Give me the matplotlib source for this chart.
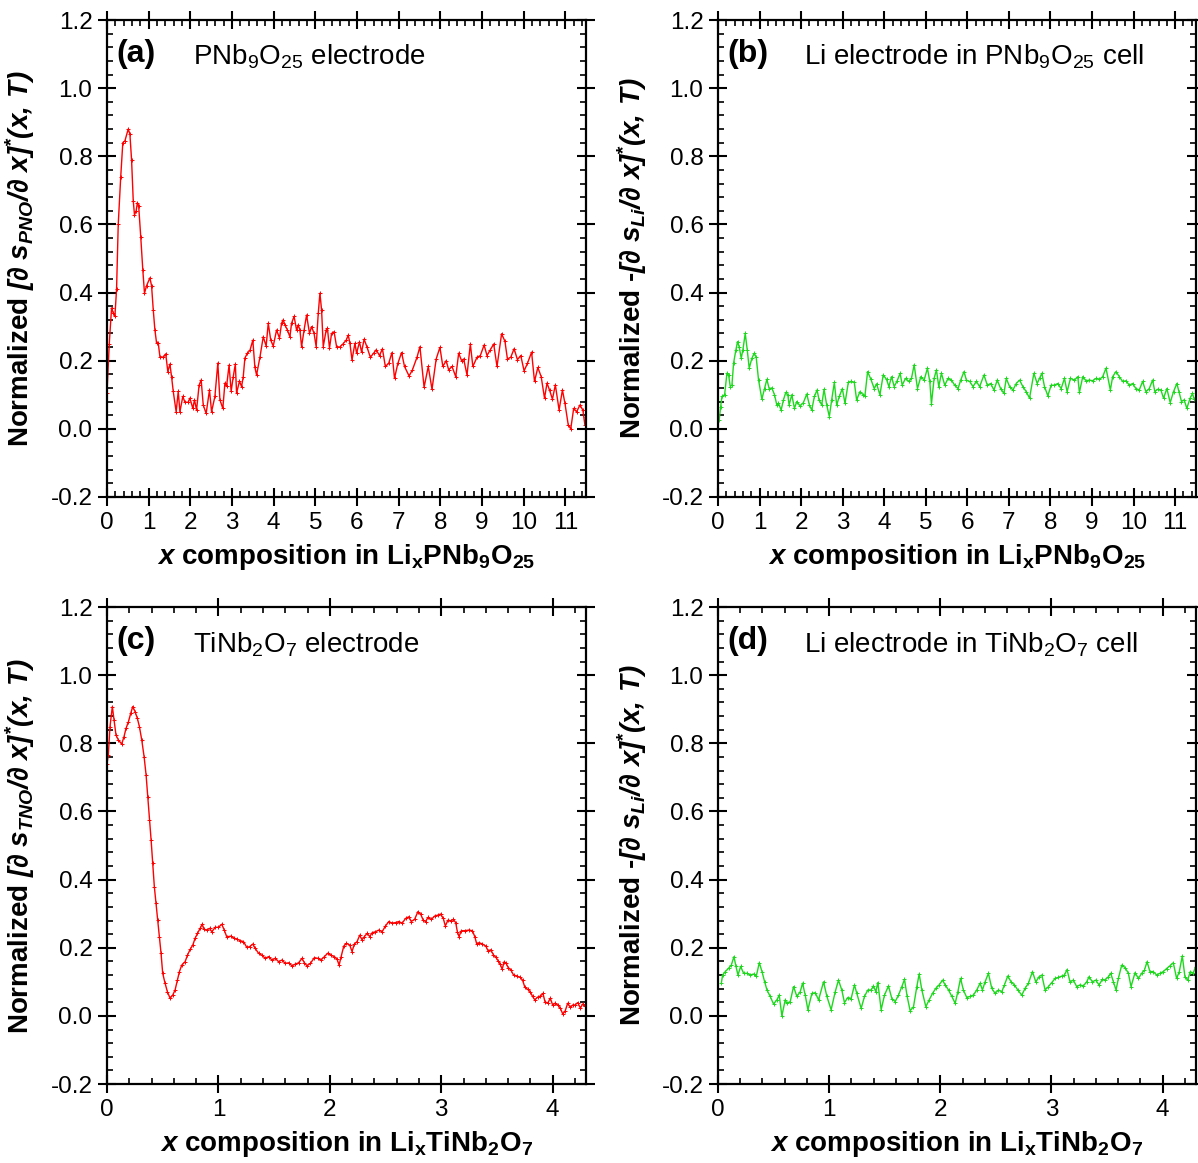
# entropy derivative panels, PNb9O25 and TiNb2O7 cells
import numpy as np
import matplotlib
matplotlib.use('Agg')
import matplotlib.pyplot as plt
from matplotlib.ticker import MultipleLocator, AutoMinorLocator

plt.rcParams['font.family'] = ['Liberation Sans', 'DejaVu Sans']
plt.rcParams['axes.unicode_minus'] = False
plt.rcParams['mathtext.fontset'] = 'custom'
plt.rcParams['mathtext.rm'] = 'Liberation Sans'
plt.rcParams['mathtext.it'] = 'Liberation Sans:italic'
plt.rcParams['mathtext.bf'] = 'Liberation Sans:bold'
plt.rcParams['mathtext.bfit'] = 'Liberation Sans:italic:bold'

# (a) PNb9O25 electrode
pno_x = [0.0, 0.055, 0.11, 0.15, 0.19, 0.23, 0.27, 0.33, 0.38, 0.43, 0.51, 0.55, 0.59, 0.63,
         0.66, 0.70, 0.73, 0.76, 0.81, 0.86, 0.90, 0.95, 1.03, 1.07, 1.11, 1.15, 1.19, 1.23,
         1.27, 1.35, 1.41, 1.46, 1.51, 1.55, 1.59, 1.66, 1.71, 1.75, 1.82, 1.87, 1.95, 1.99,
         2.06, 2.10, 2.15, 2.21, 2.26, 2.31, 2.38, 2.46, 2.51, 2.59, 2.66, 2.71, 2.78, 2.83,
         2.87, 2.93, 2.98, 3.03, 3.08, 3.11, 3.18, 3.23, 3.27, 3.31, 3.37, 3.43, 3.50, 3.55,
         3.59, 3.67, 3.75, 3.82, 3.87, 3.93, 3.99, 4.07, 4.14, 4.19, 4.23, 4.27, 4.33, 4.39,
         4.43, 4.49, 4.55, 4.59, 4.63, 4.67, 4.73, 4.79, 4.86, 4.91, 4.97, 5.02, 5.07, 5.11,
         5.15, 5.19, 5.26, 5.29, 5.34, 5.39, 5.45, 5.51, 5.59, 5.67, 5.74, 5.79, 5.83, 5.88,
         5.95, 5.99, 6.06, 6.11, 6.17, 6.24, 6.32, 6.40, 6.46, 6.54, 6.61, 6.68, 6.76, 6.84,
         6.90, 6.98, 7.07, 7.14, 7.25, 7.33, 7.44, 7.51, 7.61, 7.71, 7.80, 7.90, 7.99, 8.06,
         8.14, 8.20, 8.28, 8.37, 8.44, 8.51, 8.56, 8.64, 8.72, 8.78, 8.88, 8.96, 9.05, 9.12,
         9.20, 9.28, 9.36, 9.47, 9.55, 9.61, 9.69, 9.77, 9.85, 9.93, 10.01, 10.09, 10.19,
         10.26, 10.34, 10.42, 10.50, 10.56, 10.62, 10.69, 10.76, 10.85, 10.93, 10.99, 11.07,
         11.13, 11.20, 11.27, 11.35, 11.42, 11.47, 11.50]
pno_y = [0.105, 0.25, 0.355, 0.34, 0.33, 0.41, 0.60, 0.74, 0.84, 0.845, 0.88, 0.865, 0.79, 0.67,
         0.628, 0.64, 0.664, 0.655, 0.564, 0.466, 0.398, 0.42, 0.443, 0.42, 0.35, 0.29, 0.252, 0.252,
         0.212, 0.21, 0.22, 0.168, 0.19, 0.153, 0.11, 0.05, 0.11, 0.05, 0.095, 0.078, 0.078, 0.09,
         0.06, 0.085, 0.055, 0.128, 0.143, 0.07, 0.045, 0.114, 0.05, 0.095, 0.193, 0.085, 0.06, 0.134,
         0.125, 0.187, 0.11, 0.153, 0.19, 0.105, 0.14, 0.124, 0.153, 0.208, 0.222, 0.23, 0.26, 0.18,
         0.158, 0.21, 0.27, 0.243, 0.31, 0.26, 0.243, 0.29, 0.266, 0.31, 0.32, 0.305, 0.29, 0.27,
         0.31, 0.33, 0.29, 0.305, 0.29, 0.241, 0.29, 0.334, 0.28, 0.30, 0.28, 0.241, 0.339, 0.398,
         0.349, 0.241, 0.29, 0.295, 0.237, 0.28, 0.285, 0.241, 0.24, 0.25, 0.26, 0.275, 0.251, 0.202,
         0.251, 0.222, 0.255, 0.225, 0.263, 0.24, 0.21, 0.222, 0.232, 0.215, 0.235, 0.183, 0.192, 0.224,
         0.148, 0.192, 0.224, 0.183, 0.155, 0.173, 0.21, 0.241, 0.122, 0.183, 0.116, 0.205, 0.239, 0.183,
         0.20, 0.173, 0.183, 0.153, 0.222, 0.20, 0.205, 0.158, 0.249, 0.183, 0.21, 0.215, 0.246, 0.215,
         0.232, 0.249, 0.183, 0.279, 0.257, 0.205, 0.21, 0.235, 0.203, 0.215, 0.17, 0.192, 0.225,
         0.139, 0.18, 0.153, 0.09, 0.134, 0.114, 0.087, 0.129, 0.055, 0.114, 0.075, 0.011,
         0.0, 0.06, 0.05, 0.07, 0.055, 0.011, 0.035]

# (b) Li electrode in PNb9O25 cell
lip_x = [0.03, 0.065, 0.096, 0.16, 0.216, 0.256, 0.296, 0.336, 0.376, 0.432, 0.472, 0.512, 0.56,
         0.60, 0.656, 0.704, 0.752, 0.816, 0.872, 0.92, 0.976, 1.056, 1.12, 1.176, 1.232, 1.296,
         1.36, 1.416, 1.456, 1.52, 1.576, 1.632, 1.68, 1.712, 1.776, 1.84, 1.896, 1.976, 2.056,
         2.136, 2.20, 2.256, 2.32, 2.384, 2.432, 2.496, 2.552, 2.616, 2.68, 2.736, 2.80, 2.856,
         2.92, 2.992, 3.056, 3.136, 3.20, 3.28, 3.336, 3.416, 3.496, 3.536, 3.60, 3.68, 3.76,
         3.816, 3.896, 3.976, 4.056, 4.112, 4.176, 4.24, 4.304, 4.384, 4.432, 4.512, 4.592, 4.656,
         4.72, 4.80, 4.88, 4.96, 5.04, 5.096, 5.136, 5.20, 5.256, 5.312, 5.376, 5.456, 5.536,
         5.616, 5.696, 5.776, 5.84, 5.92, 5.976, 6.056, 6.136, 6.216, 6.296, 6.40, 6.48, 6.56,
         6.64, 6.72, 6.80, 6.88, 6.936, 7.016, 7.096, 7.176, 7.256, 7.336, 7.416, 7.496, 7.60,
         7.68, 7.736, 7.792, 7.856, 7.936, 8.016, 8.096, 8.176, 8.256, 8.336, 8.40, 8.48, 8.576,
         8.656, 8.696, 8.776, 8.856, 8.936, 9.016, 9.096, 9.176, 9.256, 9.336, 9.44, 9.496, 9.576,
         9.656, 9.736, 9.816, 9.896, 9.976, 10.056, 10.136, 10.216, 10.296, 10.376, 10.456,
         10.512, 10.576, 10.656, 10.72, 10.80, 10.88, 10.96, 11.04, 11.096, 11.152, 11.216,
         11.28, 11.36, 11.416, 11.456]
lip_y = [0.026, 0.065, 0.095, 0.10, 0.163, 0.158, 0.124, 0.128, 0.193, 0.232, 0.256, 0.24, 0.207,
         0.232, 0.28, 0.232, 0.178, 0.207, 0.222, 0.21, 0.144, 0.087, 0.118, 0.145, 0.118, 0.12,
         0.10, 0.07, 0.075, 0.055, 0.085, 0.107, 0.10, 0.07, 0.10, 0.06, 0.08, 0.067, 0.077,
         0.102, 0.07, 0.055, 0.095, 0.114, 0.085, 0.07, 0.116, 0.07, 0.036, 0.085, 0.136, 0.07,
         0.095, 0.118, 0.075, 0.136, 0.139, 0.136, 0.085, 0.109, 0.10, 0.097, 0.168, 0.145, 0.118,
         0.132, 0.10, 0.158, 0.145, 0.124, 0.153, 0.124, 0.139, 0.163, 0.128, 0.148, 0.139, 0.148,
         0.188, 0.118, 0.153, 0.143, 0.178, 0.139, 0.073, 0.148, 0.173, 0.124, 0.163, 0.128, 0.148,
         0.143, 0.128, 0.118, 0.143, 0.168, 0.143, 0.139, 0.124, 0.139, 0.124, 0.158, 0.128, 0.133,
         0.114, 0.143, 0.118, 0.104, 0.148, 0.124, 0.114, 0.133, 0.143, 0.124, 0.109, 0.09, 0.163,
         0.133, 0.148, 0.163, 0.124, 0.097, 0.128, 0.128, 0.133, 0.118, 0.148, 0.109, 0.148, 0.143,
         0.153, 0.107, 0.153, 0.141, 0.143, 0.141, 0.148, 0.145, 0.153, 0.178, 0.114, 0.153, 0.168,
         0.153, 0.139, 0.141, 0.128, 0.133, 0.118, 0.114, 0.139, 0.109, 0.118, 0.143,
         0.109, 0.116, 0.114, 0.09, 0.118, 0.077, 0.109, 0.133, 0.107, 0.08, 0.085,
         0.06, 0.09, 0.104, 0.087]

# (c) TiNb2O7 electrode
tno_x = [0.0, 0.012, 0.027, 0.048, 0.063, 0.081, 0.102, 0.132, 0.153, 0.171, 0.192, 0.213, 0.231,
         0.252, 0.273, 0.291, 0.312, 0.333, 0.351, 0.366, 0.381, 0.396, 0.41, 0.425, 0.44, 0.455,
         0.47, 0.485, 0.50, 0.521, 0.542, 0.566, 0.59, 0.611, 0.632, 0.65, 0.671, 0.701, 0.722,
         0.746, 0.77, 0.791, 0.812, 0.836, 0.854, 0.872, 0.896, 0.92, 0.941, 0.971, 1.00, 1.03,
         1.052, 1.075, 1.111, 1.141, 1.171, 1.195, 1.225, 1.255, 1.279, 1.309, 1.33, 1.36, 1.39,
         1.42, 1.45, 1.48, 1.51, 1.54, 1.57, 1.60, 1.63, 1.66, 1.69, 1.72, 1.75, 1.771, 1.795,
         1.825, 1.861, 1.891, 1.921, 1.951, 1.981, 2.011, 2.041, 2.065, 2.083, 2.101, 2.125,
         2.149, 2.178, 2.199, 2.22, 2.244, 2.268, 2.289, 2.31, 2.334, 2.358, 2.379, 2.409, 2.439,
         2.469, 2.499, 2.529, 2.559, 2.589, 2.619, 2.649, 2.679, 2.709, 2.73, 2.76, 2.79, 2.814,
         2.838, 2.859, 2.88, 2.91, 2.94, 2.97, 2.994, 3.018, 3.036, 3.06, 3.084, 3.108, 3.129,
         3.144, 3.159, 3.18, 3.21, 3.249, 3.279, 3.30, 3.318, 3.339, 3.369, 3.399, 3.42, 3.444,
         3.468, 3.489, 3.51, 3.528, 3.546, 3.564, 3.582, 3.60, 3.624, 3.648, 3.678, 3.708, 3.729,
         3.75, 3.774, 3.798, 3.819, 3.84, 3.864, 3.888, 3.912, 3.93, 3.954, 3.978, 3.999, 4.02,
         4.044, 4.068, 4.089, 4.11, 4.134, 4.158, 4.179, 4.20, 4.224, 4.248, 4.269, 4.29]
tno_y = [0.74, 0.766, 0.849, 0.908, 0.869, 0.824, 0.81, 0.798, 0.82, 0.844, 0.863, 0.888, 0.908,
         0.893, 0.873, 0.849, 0.81, 0.761, 0.707, 0.643, 0.575, 0.516, 0.448, 0.379, 0.33, 0.281,
         0.232, 0.184, 0.125, 0.096, 0.071, 0.052, 0.061, 0.076, 0.105, 0.13, 0.149, 0.159, 0.178,
         0.195, 0.208, 0.228, 0.242, 0.257, 0.269, 0.254, 0.252, 0.257, 0.247, 0.26, 0.26, 0.269,
         0.252, 0.232, 0.234, 0.228, 0.225, 0.221, 0.218, 0.201, 0.203, 0.211, 0.198, 0.184, 0.178,
         0.169, 0.174, 0.164, 0.169, 0.159, 0.164, 0.154, 0.156, 0.147, 0.152, 0.156, 0.169, 0.156,
         0.147, 0.154, 0.171, 0.169, 0.164, 0.174, 0.184, 0.178, 0.174, 0.166, 0.149, 0.174, 0.205,
         0.213, 0.208, 0.189, 0.211, 0.218, 0.237, 0.223, 0.233, 0.242, 0.233, 0.244, 0.247, 0.252,
         0.247, 0.264, 0.277, 0.272, 0.274, 0.277, 0.272, 0.286, 0.291, 0.277, 0.283, 0.306, 0.299,
         0.281, 0.277, 0.289, 0.283, 0.293, 0.296, 0.299, 0.286, 0.264, 0.281, 0.279, 0.283, 0.274,
         0.247, 0.233, 0.25, 0.25, 0.252, 0.25, 0.233, 0.211, 0.215, 0.211, 0.205, 0.191, 0.194,
         0.179, 0.172, 0.162, 0.152, 0.137, 0.159, 0.154, 0.142, 0.135, 0.12, 0.117, 0.113, 0.105,
         0.084, 0.078, 0.071, 0.057, 0.047, 0.055, 0.058, 0.066, 0.042, 0.037, 0.052, 0.032, 0.037,
         0.032, 0.023, 0.006, 0.013, 0.037, 0.025, 0.032, 0.032, 0.039, 0.023, 0.035, 0.03]

# (d) Li electrode in TiNb2O7 cell
lit_x = [0.03, 0.042, 0.066, 0.096, 0.12, 0.144, 0.162, 0.18, 0.204, 0.231, 0.261, 0.291, 0.321,
         0.345, 0.372, 0.396, 0.42, 0.441, 0.47, 0.50, 0.53, 0.551, 0.575, 0.605, 0.62, 0.65,
         0.68, 0.71, 0.74, 0.761, 0.785, 0.809, 0.845, 0.875, 0.905, 0.95, 0.98, 1.018, 1.055,
         1.084, 1.114, 1.138, 1.168, 1.198, 1.228, 1.249, 1.288, 1.318, 1.348, 1.378, 1.399,
         1.42, 1.438, 1.468, 1.498, 1.534, 1.564, 1.594, 1.624, 1.654, 1.678, 1.702, 1.729,
         1.759, 1.789, 1.81, 1.834, 1.87, 1.90, 1.93, 1.96, 1.99, 2.02, 2.044, 2.074, 2.104,
         2.134, 2.158, 2.182, 2.208, 2.238, 2.268, 2.298, 2.328, 2.358, 2.379, 2.403, 2.433,
         2.463, 2.493, 2.523, 2.553, 2.577, 2.607, 2.637, 2.667, 2.697, 2.733, 2.763, 2.793,
         2.829, 2.859, 2.889, 2.913, 2.943, 2.973, 3.003, 3.033, 3.063, 3.093, 3.117, 3.14,
         3.167, 3.197, 3.227, 3.257, 3.287, 3.317, 3.338, 3.368, 3.398, 3.428, 3.458, 3.482,
         3.512, 3.533, 3.557, 3.581, 3.602, 3.632, 3.662, 3.692, 3.716, 3.752, 3.782, 3.812,
         3.836, 3.86, 3.886, 3.916, 3.946, 3.976, 4.006, 4.036, 4.066, 4.096, 4.126, 4.15,
         4.177, 4.201, 4.225, 4.249, 4.275, 4.296]
lit_y = [0.096, 0.12, 0.13, 0.14, 0.149, 0.174, 0.145, 0.12, 0.145, 0.125, 0.125, 0.12, 0.123,
         0.117, 0.156, 0.13, 0.10, 0.076, 0.057, 0.035, 0.047, 0.061, 0.0, 0.047, 0.037, 0.042,
         0.086, 0.057, 0.071, 0.096, 0.061, 0.018, 0.066, 0.068, 0.047, 0.10, 0.057, 0.018, 0.071,
         0.105, 0.076, 0.039, 0.054, 0.051, 0.091, 0.066, 0.022, 0.057, 0.076, 0.076, 0.088,
         0.071, 0.098, 0.018, 0.061, 0.088, 0.051, 0.042, 0.061, 0.086, 0.107, 0.057, 0.015,
         0.027, 0.086, 0.123, 0.076, 0.027, 0.047, 0.066, 0.081, 0.091, 0.105, 0.091, 0.076, 0.057,
         0.037, 0.071, 0.11, 0.076, 0.054, 0.057, 0.061, 0.076, 0.096, 0.076, 0.10, 0.125,
         0.081, 0.066, 0.076, 0.071, 0.091, 0.117, 0.10, 0.091, 0.076, 0.061, 0.081, 0.096,
         0.13, 0.10, 0.115, 0.12, 0.076, 0.086, 0.098, 0.11, 0.113, 0.117, 0.12, 0.136,
         0.10, 0.105, 0.086, 0.091, 0.088, 0.10, 0.115, 0.10, 0.105, 0.091, 0.107, 0.105,
         0.115, 0.125, 0.10, 0.076, 0.11, 0.149, 0.142, 0.125, 0.086, 0.127, 0.11, 0.125,
         0.134, 0.159, 0.13, 0.13, 0.12, 0.125, 0.13, 0.139, 0.147, 0.156, 0.11, 0.13,
         0.176, 0.115, 0.105, 0.13, 0.125, 0.144]

RED = '#ff0000'
GREEN = '#1ed81e'

fig = plt.figure(figsize=(11.98, 11.63), dpi=100)
ax_a = fig.add_axes([0.0893, 0.5727, 0.400, 0.4101])
ax_b = fig.add_axes([0.5993, 0.5727, 0.399, 0.4101])
ax_c = fig.add_axes([0.0893, 0.0679, 0.400, 0.4101])
ax_d = fig.add_axes([0.5993, 0.0679, 0.399, 0.4101])


def style(ax, xmax, letter, note, ylab, xlab):
    ax.set_xlim(0, xmax)
    ax.set_ylim(-0.2, 1.2)
    ax.xaxis.set_major_locator(MultipleLocator(1))
    ax.xaxis.set_minor_locator(AutoMinorLocator(5))
    ax.yaxis.set_major_locator(MultipleLocator(0.2))
    ax.yaxis.set_minor_locator(AutoMinorLocator(5))
    ax.yaxis.set_major_formatter(plt.FormatStrFormatter('%.1f'))
    ax.tick_params(which='major', direction='inout', length=13, width=1.5,
                   top=True, right=True, labelsize=17.5, pad=4)
    ax.tick_params(which='minor', direction='in', length=4, width=1.2,
                   top=True, right=True)
    for s in ax.spines.values():
        s.set_linewidth(1.6)
    ax.text(0.02, 0.928, letter, transform=ax.transAxes, fontsize=23,
            fontweight='bold', va='center')
    ax.text(0.18, 0.922, note, transform=ax.transAxes, fontsize=20, va='center')
    ax.set_ylabel(ylab, fontsize=20, fontweight='bold')
    ax.set_xlabel(xlab, fontsize=20, fontweight='bold')
    ax.yaxis.set_label_coords(-0.145, 0.5)
    ax.xaxis.set_label_coords(0.5, -0.095)


ax_a.plot(pno_x, pno_y, '-', color=RED, lw=1.0, marker='+', ms=3, mew=0.7)
ax_b.plot(lip_x, lip_y, '-', color=GREEN, lw=1.0, marker='+', ms=3, mew=0.7)
ax_c.plot(tno_x, tno_y, '-', color=RED, lw=1.0, marker='+', ms=3, mew=0.7)
ax_d.plot(lit_x, lit_y, '-', color=GREEN, lw=1.0, marker='+', ms=3, mew=0.7)

xl_pno = r'$\mathbfit{x}$ composition in Li$_\mathbf{x}$PNb$_\mathbf{9}$O$_\mathbf{25}$'
xl_tno = r'$\mathbfit{x}$ composition in Li$_\mathbf{x}$TiNb$_\mathbf{2}$O$_\mathbf{7}$'

style(ax_a, 11.5, '(a)', r'PNb$_9$O$_{25}$ electrode',
      r'Normalized $\mathbfit{[\partial\ s_{PNO}/\partial\ x]^{*}(x,\,T)}$', xl_pno)
style(ax_b, 11.5, '(b)', r'Li electrode in PNb$_9$O$_{25}$ cell',
      r'Normalized -$\mathbfit{[\partial\ s_{Li}/\partial\ x]^{*}(x,\,T)}$', xl_pno)
style(ax_c, 4.3, '(c)', r'TiNb$_2$O$_7$ electrode',
      r'Normalized $\mathbfit{[\partial\ s_{TNO}/\partial\ x]^{*}(x,\,T)}$', xl_tno)
style(ax_d, 4.3, '(d)', r'Li electrode in TiNb$_2$O$_7$ cell',
      r'Normalized -$\mathbfit{[\partial\ s_{Li}/\partial\ x]^{*}(x,\,T)}$', xl_tno)

fig.savefig('out.png', dpi=100)
